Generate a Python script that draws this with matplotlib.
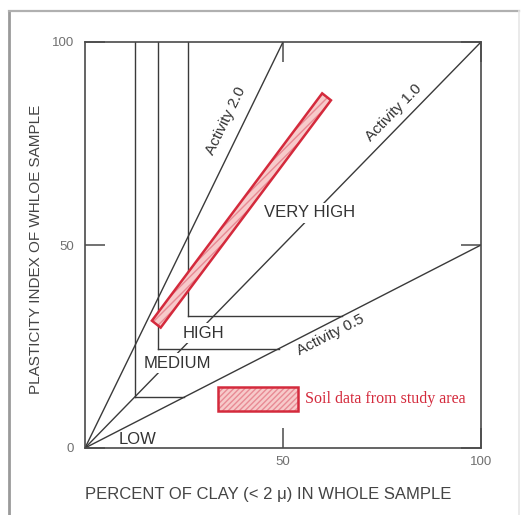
import numpy as np
import matplotlib.pyplot as plt
from matplotlib.patches import Polygon, Rectangle
from matplotlib.lines import Line2D

plt.rcParams['font.family'] = ['Liberation Sans', 'DejaVu Sans']

# Activity lines: PI = A * clay
activity = [2.0, 1.0, 0.5]
activity_label_x = [35.6, 78.0, 61.9]
activity_label_y = [80.5, 82.5, 27.8]

# Step boundaries between expansiveness zones (corner of each step)
zone_clay = [12.5, 18.5, 26.0]
zone_pi = [12.5, 24.5, 32.5]

zone_names = ["LOW", "MEDIUM", "HIGH", "VERY HIGH"]
zone_label_x = [13.2, 23.3, 30.0, 56.8]
zone_label_y = [2.0, 20.9, 28.3, 57.9]

# Band covered by the soil samples from the study area
band_clay = [18.0, 61.0]
band_pi = [30.5, 86.5]
band_halfwidth = 1.4

line_col = '#3a3a3a'
red = '#d42a3c'
pink = '#f7caca'

fig = plt.figure(figsize=(5.21, 5.15), dpi=100)
ax = fig.add_axes([85 / 521, 67 / 515, 396 / 521, 406 / 515])
ax.set_xlim(0, 100)
ax.set_ylim(0, 100)

for s in ax.spines.values():
    s.set_color('#4a4a4a')
    s.set_linewidth(1.2)

ax.set_xticks([50, 100])
ax.set_xticklabels(['50', '100'])
ax.set_yticks([0, 50, 100])
ax.set_yticklabels(['0', '50', '100'])
ax.tick_params(direction='in', length=14.5, width=1.1, color='#4a4a4a',
               top=True, right=True, labelsize=9.5, labelcolor='#707070')
ax.tick_params(axis='y', pad=8)
ax.tick_params(axis='x', pad=6)

# activity lines from the origin
for a in activity:
    xe = min(100, 100 / a)
    ax.plot([0, xe], [0, a * xe], color=line_col, lw=1.0, zorder=2)

# zone steps: vertical down from the top, then across to the A=0.5 line
for c, p in zip(zone_clay, zone_pi):
    ax.plot([c, c], [100, p], color=line_col, lw=1.0, zorder=2)
    ax.plot([c, p / 0.5], [p, p], color=line_col, lw=1.0, zorder=2)

for a, lx, ly in zip(activity, activity_label_x, activity_label_y):
    ang = np.degrees(np.arctan2(a, 1.0))
    ax.text(lx, ly, f"Activity {a:.1f}", rotation=ang, transform_rotates_text=True,
            rotation_mode='anchor', ha='center', va='center', fontsize=11,
            color='#333333', zorder=3)

for i, (name, lx, ly) in enumerate(zip(zone_names, zone_label_x, zone_label_y)):
    bb = None
    if i > 0:
        bb = dict(boxstyle='square,pad=0.15', fc='white', ec='none')
    ax.text(lx, ly, name, ha='center', va='center', fontsize=12,
            color='#333333', bbox=bb, zorder=3)

# sample band drawn as a thin slanted strip
p0 = np.array([band_clay[0], band_pi[0]])
p1 = np.array([band_clay[1], band_pi[1]])
d = (p1 - p0) / np.linalg.norm(p1 - p0)
n = np.array([-d[1], d[0]]) * band_halfwidth
strip = [p0 + n, p1 + n, p1 - n, p0 - n]
ax.add_patch(Polygon(strip, closed=True, fc=pink, ec='#e88a94', hatch='////',
                     lw=0, zorder=4))
ax.add_patch(Polygon(strip, closed=True, fc='none', ec=red, lw=1.8, zorder=5))

# key for the band
ax.add_patch(Rectangle((33.6, 9.1), 20.2, 5.9, fc=pink, ec='#e88a94',
                       hatch='//////', lw=0, zorder=4))
ax.add_patch(Rectangle((33.6, 9.1), 20.2, 5.9, fc='none', ec=red, lw=1.8,
                       zorder=5))
ax.text(55.6, 12.1, "Soil data from study area", ha='left', va='center',
        fontsize=11.5, color=red, family=['Liberation Serif', 'DejaVu Serif'])

ax.set_xlabel("PERCENT OF CLAY (< 2 \u03bc) IN WHOLE SAMPLE", fontsize=12,
              color='#444444')
ax.xaxis.set_label_coords(0.463, -0.095)
ax.set_ylabel("PLASTICITY INDEX OF WHLOE SAMPLE", fontsize=11, color='#444444')
ax.yaxis.set_label_coords(-0.106, 0.49)

# outer frame: darker left edge, lighter top and right
fx0, fx1, fy = 8.5 / 521, 518.5 / 521, 1 - 11 / 515
fig.add_artist(Line2D([fx0, fx0], [0, fy], transform=fig.transFigure,
                      color='#9a9a9a', lw=2.0))
fig.add_artist(Line2D([fx0, fx1], [fy, fy], transform=fig.transFigure,
                      color='#b0b0b0', lw=1.6))
fig.add_artist(Line2D([fx1, fx1], [0, fy], transform=fig.transFigure,
                      color='#e6e6e6', lw=1.2))

fig.savefig('out.png', dpi=100)
